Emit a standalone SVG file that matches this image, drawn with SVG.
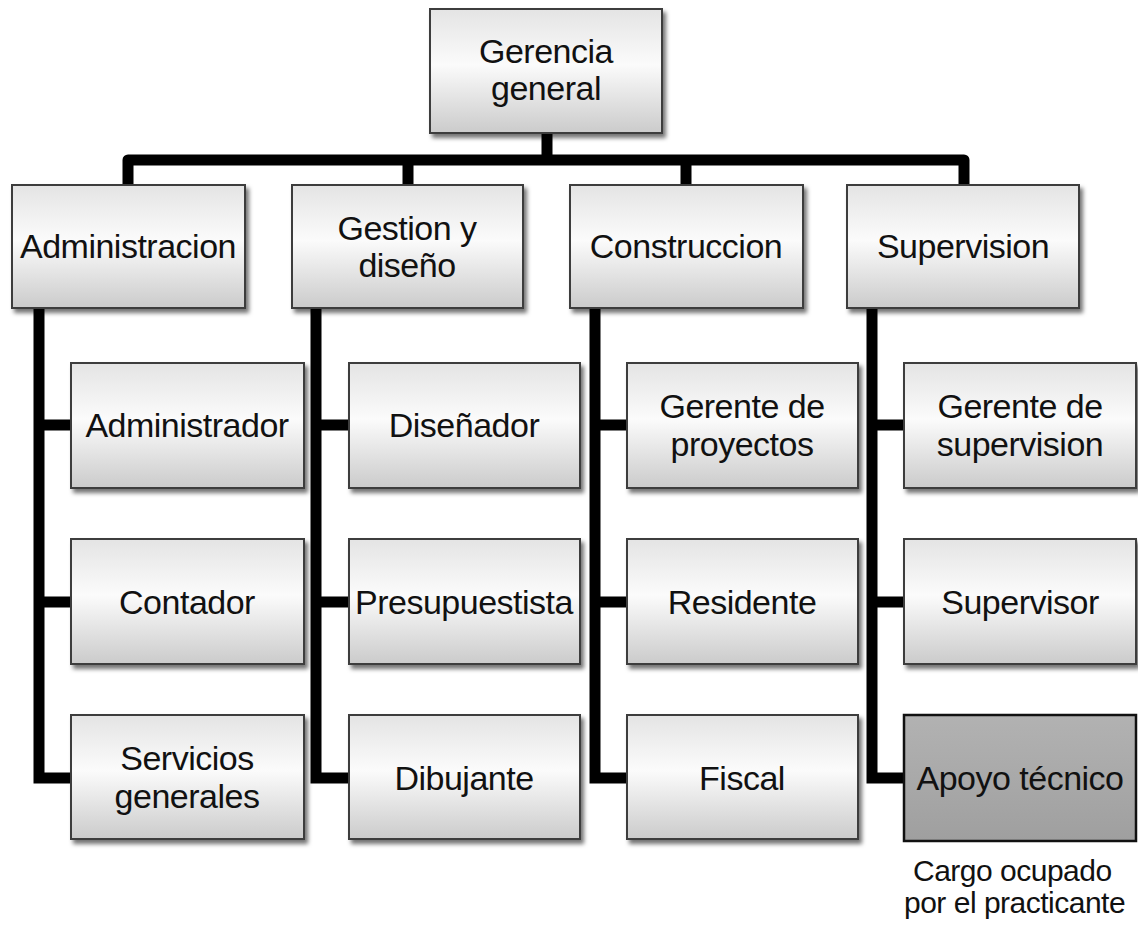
<svg xmlns="http://www.w3.org/2000/svg" width="1138" height="925" viewBox="0 0 1138 925">
<defs>
<linearGradient id="g" x1="0" y1="0" x2="0" y2="1">
<stop offset="0" stop-color="#e4e4e4"/>
<stop offset="0.45" stop-color="#fbfbfb"/>
<stop offset="1" stop-color="#cbcbcb"/>
</linearGradient>
<linearGradient id="gd" x1="0" y1="0" x2="0" y2="1">
<stop offset="0" stop-color="#b2b2b2"/>
<stop offset="0.5" stop-color="#a9a9a9"/>
<stop offset="1" stop-color="#9f9f9f"/>
</linearGradient>
<filter id="sh" x="-5%" y="-5%" width="115%" height="120%">
<feDropShadow dx="3" dy="4" stdDeviation="2" flood-color="#000" flood-opacity="0.55"/>
</filter>
<style>
.b{fill:url(#g);stroke:#3c3c3c;stroke-width:2;filter:url(#sh)}
.d{fill:url(#gd);stroke:#111;stroke-width:2.5}
.t{font-family:"Liberation Sans",Arial,sans-serif;font-size:34px;fill:#111;text-anchor:middle;letter-spacing:-0.5px}
.n{font-family:"Liberation Sans",Arial,sans-serif;font-size:30px;fill:#111;letter-spacing:-0.5px}
.c{fill:none;stroke:#000;stroke-width:11}
</style>
</defs>
<rect width="1138" height="925" fill="#fff"/>
<g id="connectors">
<path class="c" d="M547,133 V160"/>
<path class="c" d="M128,185 V160 H964 V185" stroke-linejoin="round"/>
<path class="c" d="M408,160 V185 M686,160 V185"/>
<path class="c" d="M39,308 V778 H71 M39,425 H71 M39,602 H71"/>
<path class="c" d="M316,308 V778 H349 M316,425 H349 M316,602 H349"/>
<path class="c" d="M595,308 V778 H627 M595,425 H627 M595,602 H627"/>
<path class="c" d="M872,308 V778 H904 M872,425 H904 M872,602 H904"/>
</g>
<g id="gerencia"><rect class="b" x="430" y="9" width="232" height="124"/><text class="t" x="546" y="63">Gerencia</text><text class="t" x="546" y="100">general</text></g>
<g id="administracion"><rect class="b" x="12" y="185" width="233" height="123"/><text class="t" x="128" y="258">Administracion</text></g>
<g id="gestion"><rect class="b" x="292" y="185" width="231" height="123"/><text class="t" x="407" y="240">Gestion y</text><text class="t" x="407" y="277">diseño</text></g>
<g id="construccion"><rect class="b" x="570" y="185" width="233" height="123"/><text class="t" x="686" y="258">Construccion</text></g>
<g id="supervision"><rect class="b" x="847" y="185" width="232" height="123"/><text class="t" x="963" y="258">Supervision</text></g>
<g id="administrador"><rect class="b" x="71" y="363" width="233" height="125"/><text class="t" x="187" y="437">Administrador</text></g>
<g id="contador"><rect class="b" x="71" y="539" width="233" height="125"/><text class="t" x="187" y="614">Contador</text></g>
<g id="servicios"><rect class="b" x="71" y="715" width="233" height="124"/><text class="t" x="187" y="770">Servicios</text><text class="t" x="187" y="808">generales</text></g>
<g id="disenador"><rect class="b" x="349" y="363" width="231" height="125"/><text class="t" x="464" y="437">Diseñador</text></g>
<g id="presupuestista"><rect class="b" x="349" y="539" width="231" height="125"/><text class="t" x="464" y="614">Presupuestista</text></g>
<g id="dibujante"><rect class="b" x="349" y="715" width="231" height="124"/><text class="t" x="464" y="790">Dibujante</text></g>
<g id="gerente-proyectos"><rect class="b" x="627" y="363" width="231" height="125"/><text class="t" x="742" y="418">Gerente de</text><text class="t" x="742" y="456">proyectos</text></g>
<g id="residente"><rect class="b" x="627" y="539" width="231" height="125"/><text class="t" x="742" y="614">Residente</text></g>
<g id="fiscal"><rect class="b" x="627" y="715" width="231" height="124"/><text class="t" x="742" y="790">Fiscal</text></g>
<g id="gerente-supervision"><rect class="b" x="904" y="363" width="232" height="125"/><text class="t" x="1020" y="418">Gerente de</text><text class="t" x="1020" y="456">supervision</text></g>
<g id="supervisor"><rect class="b" x="904" y="539" width="232" height="125"/><text class="t" x="1020" y="614">Supervisor</text></g>
<g id="apoyo"><rect class="d" x="904" y="715" width="232" height="126"/><text class="t" x="1020" y="790">Apoyo técnico</text></g>
<g id="nota"><text class="n" x="913" y="881">Cargo ocupado</text><text class="n" x="904" y="913">por el practicante</text></g>
</svg>
